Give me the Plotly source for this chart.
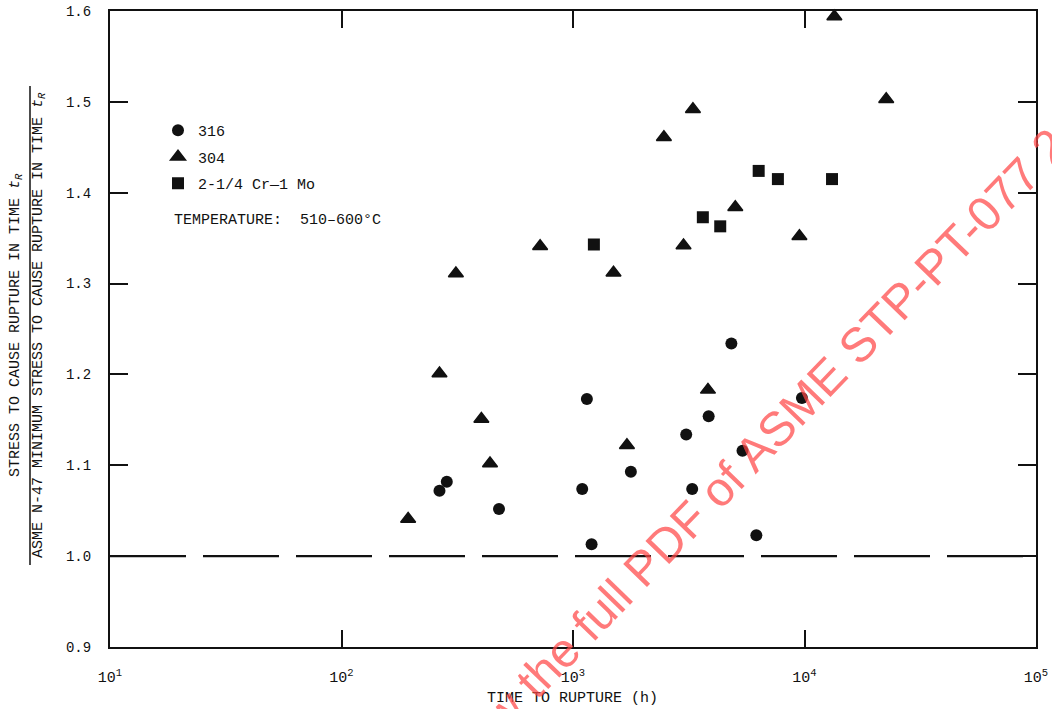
import plotly.graph_objects as go

# ---- data ----
t_316 = [265, 285, 479, 1096, 1148, 1203, 1778, 3083, 3273, 3855, 4832, 5398, 6194, 9747]
r_316 = [1.072, 1.082, 1.052, 1.074, 1.173, 1.013, 1.093, 1.134, 1.074, 1.154, 1.234, 1.116, 1.023, 1.174]

t_304 = [194, 265, 312, 402, 438, 721, 1496, 1710, 2470, 3002, 3297, 3828, 5024, 9507, 13460, 22540]
r_304 = [1.041, 1.201, 1.311, 1.151, 1.102, 1.341, 1.312, 1.122, 1.461, 1.342, 1.492, 1.183, 1.384, 1.352, 1.594, 1.503]

t_crmo = [1231, 3638, 4325, 6340, 7675, 13150]
r_crmo = [1.343, 1.373, 1.363, 1.424, 1.415, 1.415]

ref_t = [10, 100000]
ref_r = [1.0, 1.0]

x_tickvals = [10, 100, 1000, 10000, 100000]
x_ticktext = ["10<sup>1</sup>", "10<sup>2</sup>", "10<sup>3</sup>", "10<sup>4</sup>", "10<sup>5</sup>"]
y_tickvals = [0.9, 1.0, 1.1, 1.2, 1.3, 1.4, 1.5, 1.6]
y_ticktext = ["0.9", "1.0", "1.1", "1.2", "1.3", "1.4", "1.5", "1.6"]

names = ["316", "304", "2-1/4 Cr\u20141 Mo"]

MONO = "Liberation Mono, Courier New, monospace"
INK = "#111111"

fig = go.Figure()

fig.add_trace(go.Scatter(
    x=ref_t, y=ref_r, mode="lines", showlegend=False, hoverinfo="skip",
    line=dict(color=INK, width=2.2, dash="76px,17px"),
))

fig.add_trace(go.Scatter(
    x=t_316, y=r_316, mode="markers", name=names[0], legendgroup="a",
    marker=dict(symbol="circle", size=12, color=INK),
))
fig.add_trace(go.Scatter(
    x=t_304, y=r_304, mode="markers", name=names[1], legendgroup="b",
    cliponaxis=False,
    marker=dict(symbol="triangle-up", size=13, color=INK, line=dict(color=INK, width=1.5)),
))
fig.add_trace(go.Scatter(
    x=t_crmo, y=r_crmo, mode="markers", name=names[2], legendgroup="c",
    marker=dict(symbol="square", size=12, color=INK),
))

L, R, T, B = 110, 16, 11, 62
W, H = 1052, 709
pw = W - L - R
ph = H - T - B

def px(xp):
    return (xp - L) / pw

def py(yp):
    return (H - B - yp) / ph

fig.update_layout(
    width=W, height=H,
    margin=dict(l=L, r=R, t=T, b=B, autoexpand=False),
    paper_bgcolor="white", plot_bgcolor="white",
    font=dict(family=MONO, size=15, color=INK),
    legend=dict(
        x=px(158), y=py(114), xanchor="left", yanchor="top",
        bgcolor="rgba(0,0,0,0)", borderwidth=0,
        font=dict(family=MONO, size=15, color=INK),
        tracegroupgap=4,
    ),
    xaxis=dict(
        type="log", range=[1, 5], automargin=False,
        tickvals=x_tickvals, ticktext=x_ticktext,
        ticks="inside", ticklen=17, tickwidth=2, tickcolor=INK,
        showline=True, linewidth=2, linecolor=INK, mirror="ticks",
        showgrid=False, zeroline=False,
        tickfont=dict(family=MONO, size=15, color=INK),
        ticklabelstandoff=15,
    ),
    yaxis=dict(
        range=[0.9, 1.6], automargin=False,
        tickvals=y_tickvals, ticktext=y_ticktext,
        ticks="inside", ticklen=18, tickwidth=2, tickcolor=INK,
        showline=True, linewidth=2, linecolor=INK, mirror="ticks",
        showgrid=False, zeroline=False,
        tickfont=dict(family=MONO, size=14, color=INK),
        ticklabelstandoff=14,
    ),
)

# x-axis title
fig.add_annotation(
    text="TIME TO RUPTURE (h)",
    xref="paper", yref="paper", x=px(572), y=py(698), xanchor="center", yanchor="middle",
    showarrow=False, font=dict(family=MONO, size=15, color=INK),
)

# y-axis title as a fraction
fig.add_annotation(
    text="STRESS TO CAUSE RUPTURE IN TIME <i>t</i><sub><i>R</i></sub>",
    xref="paper", yref="paper", x=px(16), y=py(325), xanchor="center", yanchor="middle",
    textangle=-90, showarrow=False, font=dict(family=MONO, size=15, color=INK),
)
fig.add_annotation(
    text="ASME N-47 MINIMUM STRESS TO CAUSE RUPTURE IN TIME <i>t</i><sub><i>R</i></sub>",
    xref="paper", yref="paper", x=px(39), y=py(325), xanchor="center", yanchor="middle",
    textangle=-90, showarrow=False, font=dict(family=MONO, size=15, color=INK),
)
fig.add_shape(
    type="line", xref="paper", yref="paper",
    x0=px(30), x1=px(30), y0=py(565), y1=py(86),
    line=dict(color=INK, width=1.5),
)

fig.add_annotation(
    text="TEMPERATURE:  510\u2013600\u00b0C",
    xref="paper", yref="paper", x=px(172), y=py(220), xanchor="left", yanchor="middle",
    showarrow=False, font=dict(family=MONO, size=15, color=INK),
)

# watermark
fig.add_annotation(
    text="w the full PDF of ASME STP-PT-077 2",
    xref="paper", yref="paper", x=px(774), y=py(431), xanchor="center", yanchor="middle",
    textangle=-46, showarrow=False,
    font=dict(family="Liberation Sans, Arial, sans-serif", size=48, color="rgba(255,70,70,0.72)"),
)

fig.write_html("out.html")
